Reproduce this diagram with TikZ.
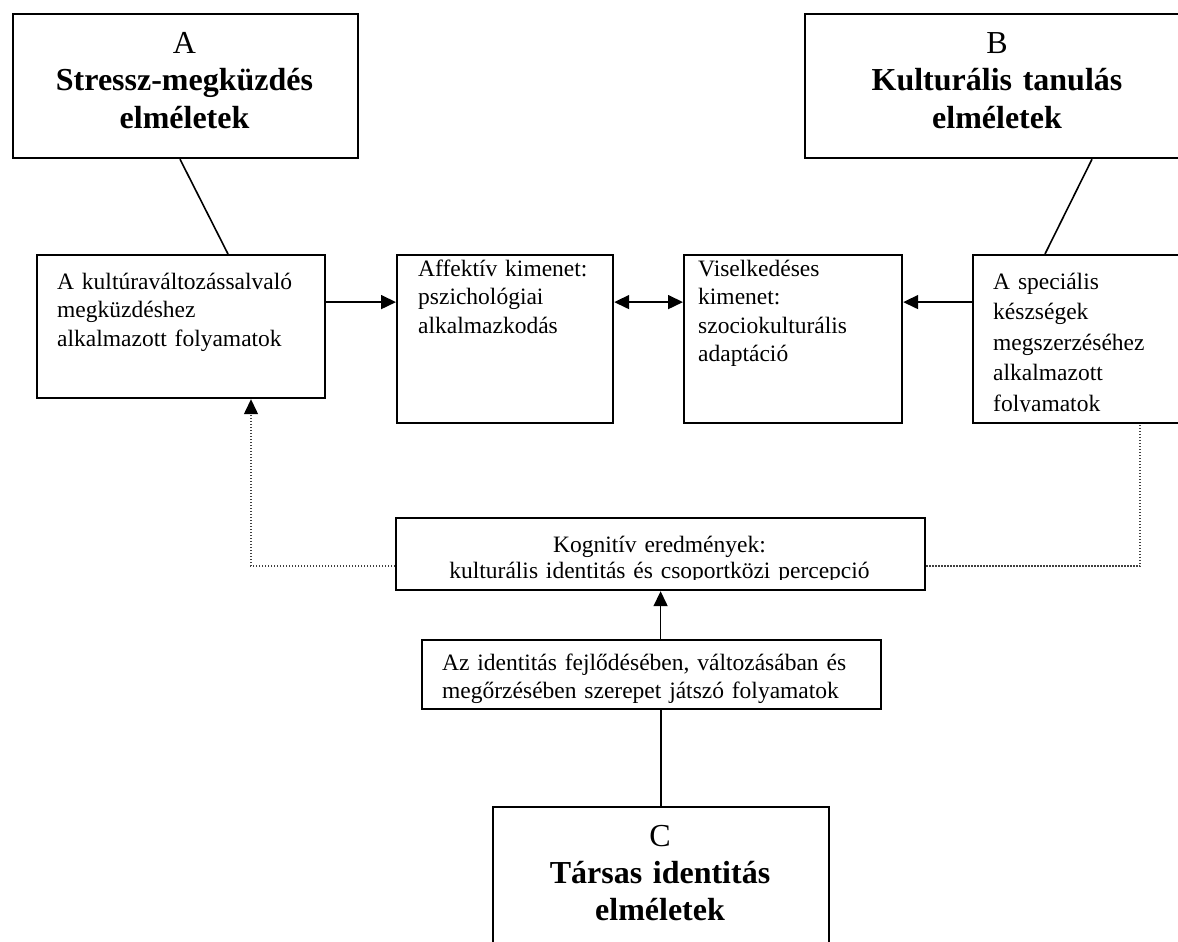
\documentclass[tikz,border=0pt]{standalone}
\usepackage{fontspec}
\setmainfont{Liberation Serif}
\usetikzlibrary{arrows.meta,calc}
\tikzset{
 box/.style={draw, line width=2.2pt, rectangle, inner sep=0pt, anchor=north west},
 conn/.style={line width=1.6pt},
 arr/.style={conn, -{Triangle[length=15pt,width=14pt]}},
 darr/.style={conn, {Triangle[length=15pt,width=14pt]}-{Triangle[length=15pt,width=14pt]}},
 dots/.style={line width=1.3pt, black!75, dash pattern=on 1.3pt off 1.7pt},
 body/.style={font=\fontsize{23.5}{28.5}\selectfont, align=left, anchor=base west, inner sep=0pt},
 title/.style={font=\fontsize{32}{37}\selectfont, align=center, anchor=base, inner sep=0pt},
}
\begin{document}
\begin{tikzpicture}[x=1pt,y=-1pt]
\clip (0,0) rectangle (1178,942);
% boxes
\node[box, minimum width=345pt, minimum height=144pt] (boxA) at (12,13) {};
\node[box, minimum width=386pt, minimum height=144pt] (boxB) at (804,13) {};
\node[box, minimum width=288pt, minimum height=143pt] (box1) at (36,254) {};
\node[box, minimum width=216pt, minimum height=168pt] (box2) at (396,254) {};
\node[box, minimum width=218pt, minimum height=168pt] (box3) at (683,254) {};
\node[box, minimum width=230pt, minimum height=168pt] (box4) at (972,254) {};
\node[box, minimum width=529pt, minimum height=72pt] (box5) at (395,517) {};
\node[box, minimum width=459pt, minimum height=69pt] (box6) at (421,639) {};
\node[box, minimum width=336pt, minimum height=200pt] (boxC) at (492,806) {};
% connectors
\draw[conn] ([xshift=168pt]boxA.south west) -- ([xshift=192pt]box1.north west);
\draw[conn] ([xshift=288pt]boxB.south west) -- ([xshift=73pt]box4.north west);
\draw[arr] ([yshift=24.5pt]box1.east) -- ([yshift=24.5pt]box1.east -| box2.west);
\draw[darr] ([yshift=37pt]box2.east) -- ([yshift=37pt]box2.east -| box3.west);
\draw[arr] ([yshift=37pt]box4.west) -- ([yshift=37pt]box4.west -| box3.east);
\draw[dots, -{Triangle[length=15pt,width=14pt,color=black]}] ([yshift=-12pt]box5.west) -| ([xshift=215pt]box1.south west);
\draw[dots] ([yshift=-12pt]box5.east) -| ([xshift=168pt]box4.south west);
\draw[arr] (box6.north -| box5.south) -- (box5.south);
\draw[conn] (boxC.north) -- (boxC.north |- box6.south);
% texts
\node[title, text width=340pt] (tA) at (184.5,54) {A\\\textbf{Stressz-megküzdés}\\\textbf{elméletek}};
\node[title, text width=370pt] (tB) at (997,54) {B\\\textbf{Kulturális tanulás}\\\textbf{elméletek}};
\node[title, text width=330pt] (tC) at (660,846) {C\\\textbf{Társas identitás}\\\textbf{elméletek}};
\node[body, text width=280pt] (t1) at (57,289) {A kultúraváltozássalvaló\\megküzdéshez\\alkalmazott folyamatok};
\node[body, text width=200pt] (t2) at (418,276) {Affektív kimenet:\\pszichológiai\\alkalmazkodás};
\node[body, text width=210pt] (t3) at (698,276) {Viselkedéses\\kimenet:\\szociokulturális\\adaptáció};
\begin{scope}
\clip (972,254) rectangle (1178,411);
\node[body, font=\fontsize{23.5}{30.5}\selectfont, text width=200pt] (t4) at (993,289) {A speciális\\készségek\\megszerzéséhez\\alkalmazott\\folyamatok};
\end{scope}
\begin{scope}
\clip (395,517) rectangle (924,579);
\node[font=\fontsize{23.5}{26.5}\selectfont, align=center, text width=520pt, anchor=base, inner sep=0pt] (t5) at (659.5,552) {Kognitív eredmények:\\kulturális identitás és csoportközi percepció};
\end{scope}
\node[body, text width=460pt] (t6) at (442,670) {Az identitás fejlődésében, változásában és\\megőrzésében szerepet játszó folyamatok};
\end{tikzpicture}
\end{document}
